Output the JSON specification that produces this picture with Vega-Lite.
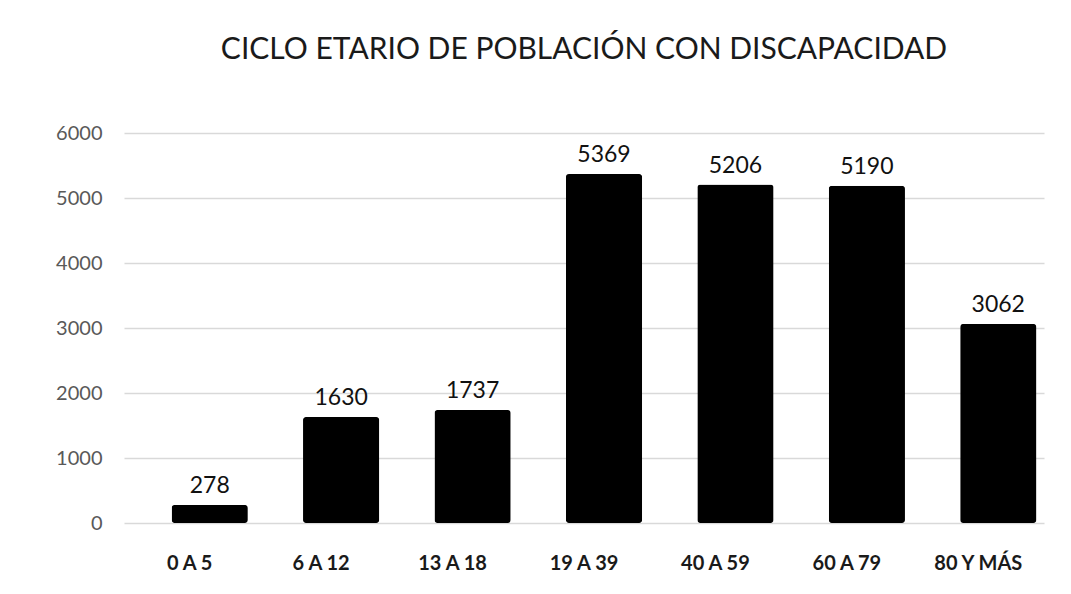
{
  "$schema": "https://vega.github.io/schema/vega-lite/v6.json",
  "autosize": {"type": "none"},
  "width": 920,
  "height": 390,
  "padding": {"left": 124, "top": 133, "right": 27, "bottom": 71},
  "background": "white",
  "title": {
    "text": "CICLO ETARIO DE POBLACIÓN CON DISCAPACIDAD",
    "font": "Lato",
    "fontSize": 30,
    "fontWeight": "normal",
    "color": "#1a1a1a",
    "anchor": "middle",
    "offset": 58,
    "dx": 0
  },
  "data": {
    "values": [
      {"edad": "0 A 5", "personas": 278},
      {"edad": "6 A 12", "personas": 1630},
      {"edad": "13 A 18", "personas": 1737},
      {"edad": "19 A 39", "personas": 5369},
      {"edad": "40 A 59", "personas": 5206},
      {"edad": "60 A 79", "personas": 5190},
      {"edad": "80 Y MÁS", "personas": 3062}
    ]
  },
  "encoding": {
    "x": {
      "field": "edad",
      "type": "nominal",
      "sort": null,
      "scale": {"paddingInner": 0.42, "paddingOuter": 0.21},
      "axis": {
        "title": null,
        "labelAngle": 0,
        "labelFont": "Lato",
        "labelFontSize": 20,
        "labelFontWeight": "bold",
        "labelColor": "#1a1a1a",
        "labelPadding": 30,
        "ticks": false,
        "domain": false,
        "grid": false
      }
    },
    "y": {
      "field": "personas",
      "type": "quantitative",
      "scale": {"domain": [0, 6000]},
      "axis": {
        "title": null,
        "values": [0, 1000, 2000, 3000, 4000, 5000, 6000],
        "format": "d",
        "labelFont": "Lato",
        "labelFontSize": 20,
        "labelColor": "#595959",
        "labelPadding": 22,
        "ticks": false,
        "domain": false,
        "grid": true,
        "gridColor": "#d9d9d9",
        "gridWidth": 1.5
      }
    }
  },
  "layer": [
    {
      "mark": {"type": "bar", "color": "#000000", "xOffset": 20, "cornerRadius": 3}
    },
    {
      "mark": {
        "type": "text",
        "baseline": "bottom",
        "dy": -7,
        "xOffset": 20,
        "font": "Lato",
        "fontSize": 23,
        "color": "#111111"
      },
      "encoding": {"text": {"field": "personas", "type": "quantitative", "format": "d"}}
    }
  ],
  "config": {"view": {"stroke": null}}
}
